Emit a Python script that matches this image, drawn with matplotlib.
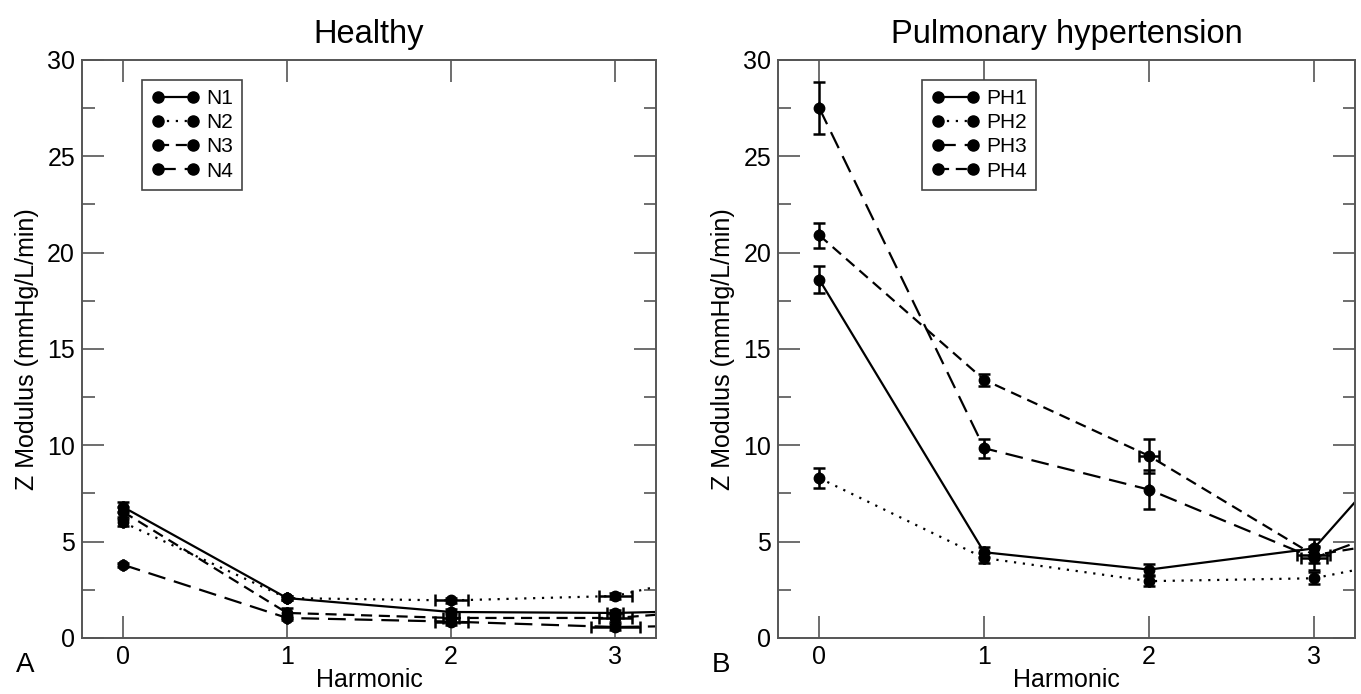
import numpy as np
import matplotlib.pyplot as plt
from matplotlib.lines import Line2D
from matplotlib.ticker import MultipleLocator

plt.rcParams["font.family"] = ["Liberation Sans", "DejaVu Sans"]

harmonic = [0, 1, 2, 3, 4]

# Healthy subjects
n_names = ["N1", "N2", "N3", "N4"]
n_vals = [
    [6.8, 2.07, 1.35, 1.30, 1.5],
    [6.0, 2.07, 1.95, 2.18, 4.1],
    [6.55, 1.30, 1.04, 1.04, 1.7],
    [3.8, 1.04, 0.85, 0.57, 0.7],
]
n_yerr = [
    [0.25, 0.10, 0.15, 0.15, 0.15],
    [0.20, 0.10, 0.15, 0.15, 0.15],
    [0.25, 0.25, 0.25, 0.20, 0.20],
    [0.10, 0.10, 0.20, 0.15, 0.15],
]
n_xerr = [
    [0, 0, 0, 0.05, 0],
    [0, 0, 0.10, 0.10, 0],
    [0, 0, 0.05, 0.10, 0],
    [0, 0, 0.10, 0.15, 0],
]

# Pulmonary hypertension patients
ph_names = ["PH1", "PH2", "PH3", "PH4"]
ph_vals = [
    [18.6, 4.45, 3.55, 4.65, 14.3],
    [8.3, 4.15, 2.95, 3.10, 4.8],
    [27.5, 9.85, 7.7, 4.15, 7.3],
    [20.9, 13.4, 9.45, 4.30, 5.7],
]
ph_yerr = [
    [0.70, 0.25, 0.30, 0.50, 0.5],
    [0.50, 0.25, 0.25, 0.30, 0.3],
    [1.35, 0.50, 1.00, 0.60, 0.6],
    [0.65, 0.30, 0.90, 0.40, 0.4],
]
ph_xerr = [
    [0, 0, 0, 0, 0],
    [0, 0, 0, 0, 0],
    [0, 0, 0, 0.08, 0],
    [0, 0, 0.06, 0.10, 0],
]

n_styles = ["-", (0, (1, 3)), (0, (5, 3)), (0, (8, 4))]
ph_styles = ["-", (0, (1, 3)), (0, (8, 4)), (0, (5, 3))]


def panel(ax, names, vals, yerr, xerr, ls_list, title, letter, leg_x):
    handles = []
    for name, v, ye, xe, ls in zip(names, vals, yerr, xerr, ls_list):
        ax.errorbar(harmonic, v, yerr=ye, xerr=xe, color="black", lw=1.6,
                    ls=ls, marker="o", ms=7.5, capsize=4, elinewidth=1.8,
                    capthick=1.8)
        handles.append(Line2D([], [], color="black", lw=1.6, ls=ls,
                              marker="o", ms=8, label=name))
    ax.set_xlim(-0.25, 3.25)
    ax.set_ylim(0, 30)
    ax.set_xticks([0, 1, 2, 3])
    ax.yaxis.set_major_locator(MultipleLocator(5))
    ax.yaxis.set_minor_locator(MultipleLocator(2.5))
    ax.tick_params(which="both", direction="in", top=True, right=True,
                   labelsize=18, color="#555555", width=1.2)
    ax.tick_params(which="major", length=16, pad=5)
    ax.tick_params(which="minor", length=9)
    for s in ax.spines.values():
        s.set_color("#555555")
        s.set_linewidth(1.4)
    ax.set_xlabel("Harmonic", fontsize=18, labelpad=-1)
    ax.set_ylabel("Z Modulus (mmHg/L/min)", fontsize=18, labelpad=6)
    ax.set_title(title, fontsize=23.5, pad=12)
    leg = ax.legend(handles=handles, loc="upper left",
                    bbox_to_anchor=(leg_x, 0.966), fontsize=15, numpoints=2,
                    handlelength=2.3, handletextpad=0.3, borderpad=0.45,
                    labelspacing=0.25, fancybox=False, framealpha=1,
                    edgecolor="#444444", borderaxespad=0)
    leg.get_frame().set_linewidth(1.2)
    ax.text(-0.115, -0.025, letter, transform=ax.transAxes, fontsize=20,
            ha="left", va="top")


fig = plt.figure(figsize=(13.61, 6.94), dpi=100)
ax1 = fig.add_axes([0.0603, 0.0807, 0.4218, 0.8329])
ax2 = fig.add_axes([0.5717, 0.0807, 0.4240, 0.8329])

panel(ax1, n_names, n_vals, n_yerr, n_xerr, n_styles, "Healthy", "A", 0.105)
panel(ax2, ph_names, ph_vals, ph_yerr, ph_xerr, ph_styles,
      "Pulmonary hypertension", "B", 0.25)

fig.savefig("out.png", dpi=100)
